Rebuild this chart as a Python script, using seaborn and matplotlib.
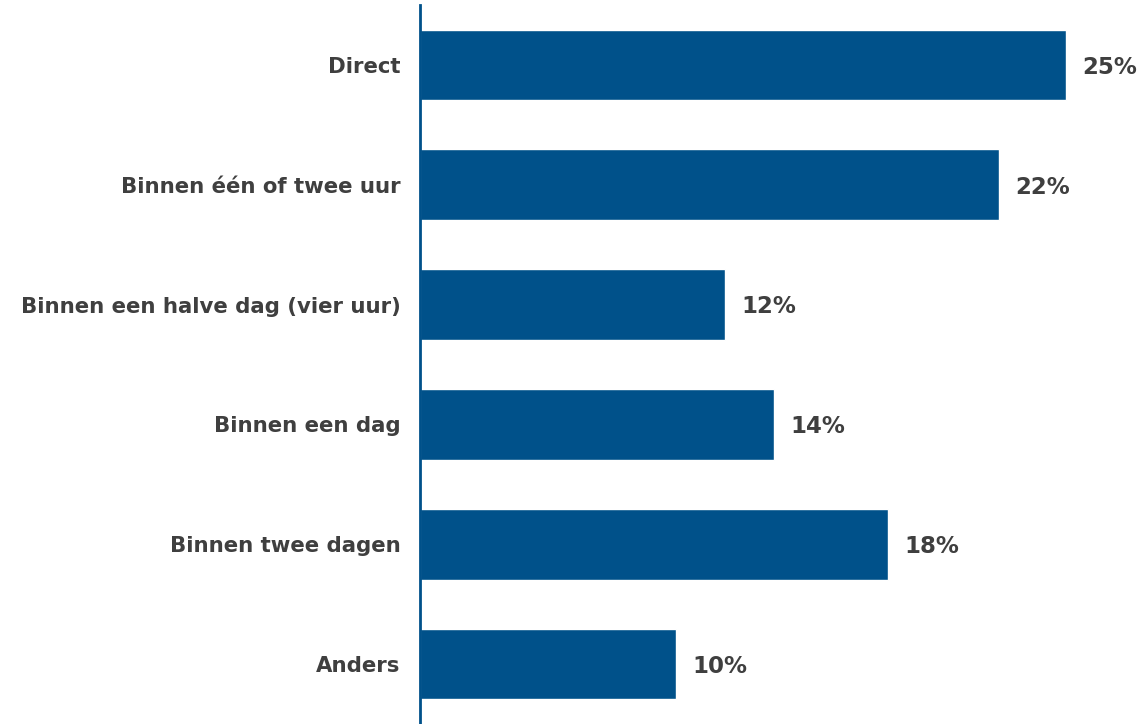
import matplotlib
matplotlib.use("Agg")
import matplotlib.pyplot as plt
import seaborn as sns
import pandas as pd

categories = [
    "Direct",
    "Binnen één of twee uur",
    "Binnen een halve dag (vier uur)",
    "Binnen een dag",
    "Binnen twee dagen",
    "Anders",
]
shares = [25.0, 22.4, 11.8, 13.7, 18.1, 9.9]

df = pd.DataFrame({"categorie": categories, "aandeel": shares})

sns.set_theme(style="white")
plt.rcParams["font.family"] = ["DejaVu Sans"]

bar_color = "#00518A"
text_color = "#3F3F3F"

fig = plt.figure(figsize=(11.44, 7.24), dpi=100)
ax = fig.add_axes([420 / 1144, 0.0, 1 - 420 / 1144, 1 - 5 / 724])

sns.barplot(data=df, x="aandeel", y="categorie", color=bar_color,
            saturation=1, width=0.59, ax=ax, orient="h")

ax.set_xlim(0, 28)
ax.set_ylim(5.5, -0.5)

for i, v in enumerate(shares):
    ax.text(v + 0.62, i + 0.02, f"{v:.0f}%", va="center", ha="left",
            fontsize=16.5, fontweight="bold", color=text_color)

ax.set_xlabel("")
ax.set_ylabel("")
ax.set_xticks([])
ax.tick_params(axis="y", length=0, pad=14)
for lbl in ax.get_yticklabels():
    lbl.set_fontsize(15.3)
    lbl.set_fontweight("bold")
    lbl.set_color(text_color)

for side in ["top", "right", "bottom"]:
    ax.spines[side].set_visible(False)
ax.spines["left"].set_color(bar_color)
ax.spines["left"].set_linewidth(2)

fig.savefig("out.png", dpi=100)
